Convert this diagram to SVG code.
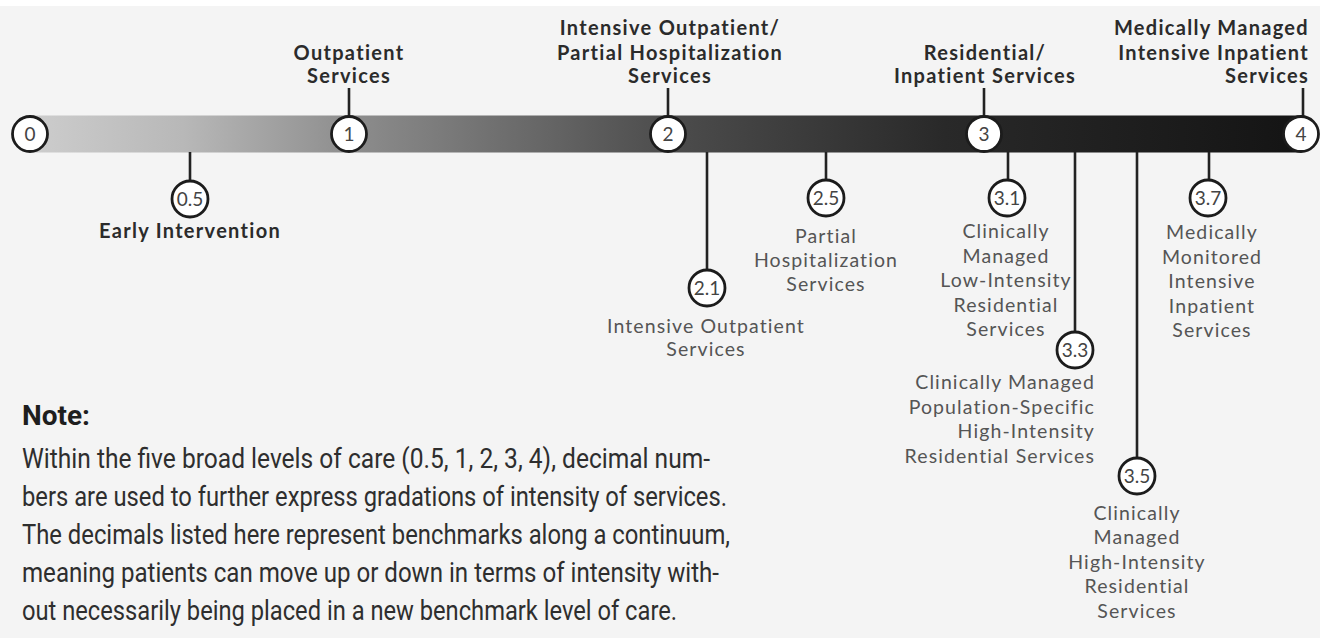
<svg xmlns="http://www.w3.org/2000/svg" width="1320" height="638" viewBox="0 0 1320 638">
<defs>
<linearGradient id="barGrad" x1="30" y1="0" x2="1301" y2="0" gradientUnits="userSpaceOnUse">
<stop offset="0" stop-color="#cdcdcd"/>
<stop offset="0.12" stop-color="#b8b8b8"/>
<stop offset="0.25" stop-color="#8e8e8e"/>
<stop offset="0.5" stop-color="#4d4d4d"/>
<stop offset="0.72" stop-color="#292929"/>
<stop offset="1" stop-color="#141414"/>
</linearGradient>
<style>
.hdr{font-family:Lato,"Liberation Sans",sans-serif;font-weight:700;font-size:20px;fill:#2b2b2b;letter-spacing:1.3px}
.lbl{font-family:Lato,"Liberation Sans",sans-serif;font-weight:400;font-size:19.5px;fill:#555;letter-spacing:1.1px}
.num{font-family:Lato,"Liberation Sans",sans-serif;font-weight:400;font-size:19px;fill:#444;text-anchor:middle}
.mid{text-anchor:middle}
.end{text-anchor:end}
.ring{fill:#fff;stroke:#1c1c1c;stroke-width:2.8}
.conn{stroke:#222;stroke-width:2.6;fill:none}
.note{font-family:Roboto,"Liberation Sans",sans-serif;font-size:27px;fill:#2e2e2e}
.noteh{font-family:Roboto,"Liberation Sans",sans-serif;font-weight:700;font-size:27px;fill:#1e1e1e}
</style>
</defs>
<rect x="0" y="0" width="1320" height="638" fill="#f4f4f4"/>
<rect x="0" y="0" width="1320" height="6" fill="#ffffff"/>
<rect id="bar" x="30" y="115.5" width="1271" height="37" fill="url(#barGrad)"/>
<g id="connectors">
<line class="conn" x1="349" y1="88" x2="349" y2="116"/>
<line class="conn" x1="668" y1="88" x2="668" y2="116"/>
<line class="conn" x1="984" y1="88" x2="984" y2="116"/>
<line class="conn" x1="1303" y1="88" x2="1303" y2="116"/>
<line class="conn" x1="190" y1="152" x2="190" y2="181"/>
<line class="conn" x1="826" y1="152" x2="826" y2="180"/>
<line class="conn" x1="1008" y1="152" x2="1008" y2="180"/>
<line class="conn" x1="1209" y1="152" x2="1209" y2="180"/>
<line class="conn" x1="707" y1="152" x2="707" y2="270"/>
<line class="conn" x1="1075" y1="152" x2="1075" y2="332"/>
<line class="conn" x1="1137" y1="152" x2="1137" y2="458"/>
</g>
<g id="n0"><circle class="ring" cx="30" cy="134" r="17.5"/><text class="num" x="30" y="140.5">0</text></g>
<g id="n1"><circle class="ring" cx="349" cy="134" r="17.5"/><text class="num" x="349" y="140.5">1</text>
<text class="hdr mid" x="349" y="60">Outpatient</text><text class="hdr mid" x="349" y="83">Services</text></g>
<g id="n2"><circle class="ring" cx="668" cy="134" r="17.5"/><text class="num" x="668" y="140.5">2</text>
<text class="hdr mid" x="670" y="35">Intensive Outpatient/</text><text class="hdr mid" x="670" y="60">Partial Hospitalization</text><text class="hdr mid" x="670" y="83">Services</text></g>
<g id="n3"><circle class="ring" cx="984" cy="134" r="17.5"/><text class="num" x="984" y="140.5">3</text>
<text class="hdr mid" x="985" y="60">Residential/</text><text class="hdr mid" x="985" y="83">Inpatient Services</text></g>
<g id="n4"><circle class="ring" cx="1301" cy="134" r="17.5"/><text class="num" x="1301" y="140.5">4</text>
<text class="hdr end" x="1309" y="35">Medically Managed</text><text class="hdr end" x="1309" y="60">Intensive Inpatient</text><text class="hdr end" x="1309" y="83">Services</text></g>
<g id="n05"><circle class="ring" cx="190" cy="199" r="18"/><text class="num" x="190" y="205.5">0.5</text>
<text class="hdr mid" x="190" y="238">Early Intervention</text></g>
<g id="n21"><circle class="ring" cx="707" cy="288" r="18"/><text class="num" x="707" y="294.5">2.1</text>
<text class="lbl mid" x="706" y="333">Intensive Outpatient</text><text class="lbl mid" x="706" y="356">Services</text></g>
<g id="n25"><circle class="ring" cx="826" cy="198" r="18"/><text class="num" x="826" y="204.5">2.5</text>
<text class="lbl mid" x="826" y="243">Partial</text><text class="lbl mid" x="826" y="267">Hospitalization</text><text class="lbl mid" x="826" y="291">Services</text></g>
<g id="n31"><circle class="ring" cx="1007" cy="198" r="18"/><text class="num" x="1007" y="204.5">3.1</text>
<text class="lbl mid" x="1006" y="238">Clinically</text><text class="lbl mid" x="1006" y="262.5">Managed</text><text class="lbl mid" x="1006" y="287">Low-Intensity</text><text class="lbl mid" x="1006" y="311.5">Residential</text><text class="lbl mid" x="1006" y="336">Services</text></g>
<g id="n33"><circle class="ring" cx="1075" cy="350" r="18"/><text class="num" x="1075" y="356.5">3.3</text>
<text class="lbl end" x="1095" y="389">Clinically Managed</text><text class="lbl end" x="1095" y="413.5">Population-Specific</text><text class="lbl end" x="1095" y="438">High-Intensity</text><text class="lbl end" x="1095" y="462.5">Residential Services</text></g>
<g id="n35"><circle class="ring" cx="1137" cy="476" r="18"/><text class="num" x="1137" y="482.5">3.5</text>
<text class="lbl mid" x="1137" y="520">Clinically</text><text class="lbl mid" x="1137" y="544">Managed</text><text class="lbl mid" x="1137" y="568.5">High-Intensity</text><text class="lbl mid" x="1137" y="593">Residential</text><text class="lbl mid" x="1137" y="617.5">Services</text></g>
<g id="n37"><circle class="ring" cx="1208" cy="198" r="18"/><text class="num" x="1208" y="204.5">3.7</text>
<text class="lbl mid" x="1212" y="239">Medically</text><text class="lbl mid" x="1212" y="263.5">Monitored</text><text class="lbl mid" x="1212" y="288">Intensive</text><text class="lbl mid" x="1212" y="312.5">Inpatient</text><text class="lbl mid" x="1212" y="337">Services</text></g>
<g id="note">
<text class="noteh" x="22" y="425" textLength="68" lengthAdjust="spacingAndGlyphs">Note:</text>
<text class="note" x="22" y="468" textLength="688" lengthAdjust="spacingAndGlyphs">Within the five broad levels of care (0.5, 1, 2, 3, 4), decimal num-</text>
<text class="note" x="22" y="506" textLength="705" lengthAdjust="spacingAndGlyphs">bers are used to further express gradations of intensity of services.</text>
<text class="note" x="22" y="544" textLength="708" lengthAdjust="spacingAndGlyphs">The decimals listed here represent benchmarks along a continuum,</text>
<text class="note" x="22" y="582" textLength="697" lengthAdjust="spacingAndGlyphs">meaning patients can move up or down in terms of intensity with-</text>
<text class="note" x="22" y="620" textLength="655" lengthAdjust="spacingAndGlyphs">out necessarily being placed in a new benchmark level of care.</text>
</g>
</svg>
